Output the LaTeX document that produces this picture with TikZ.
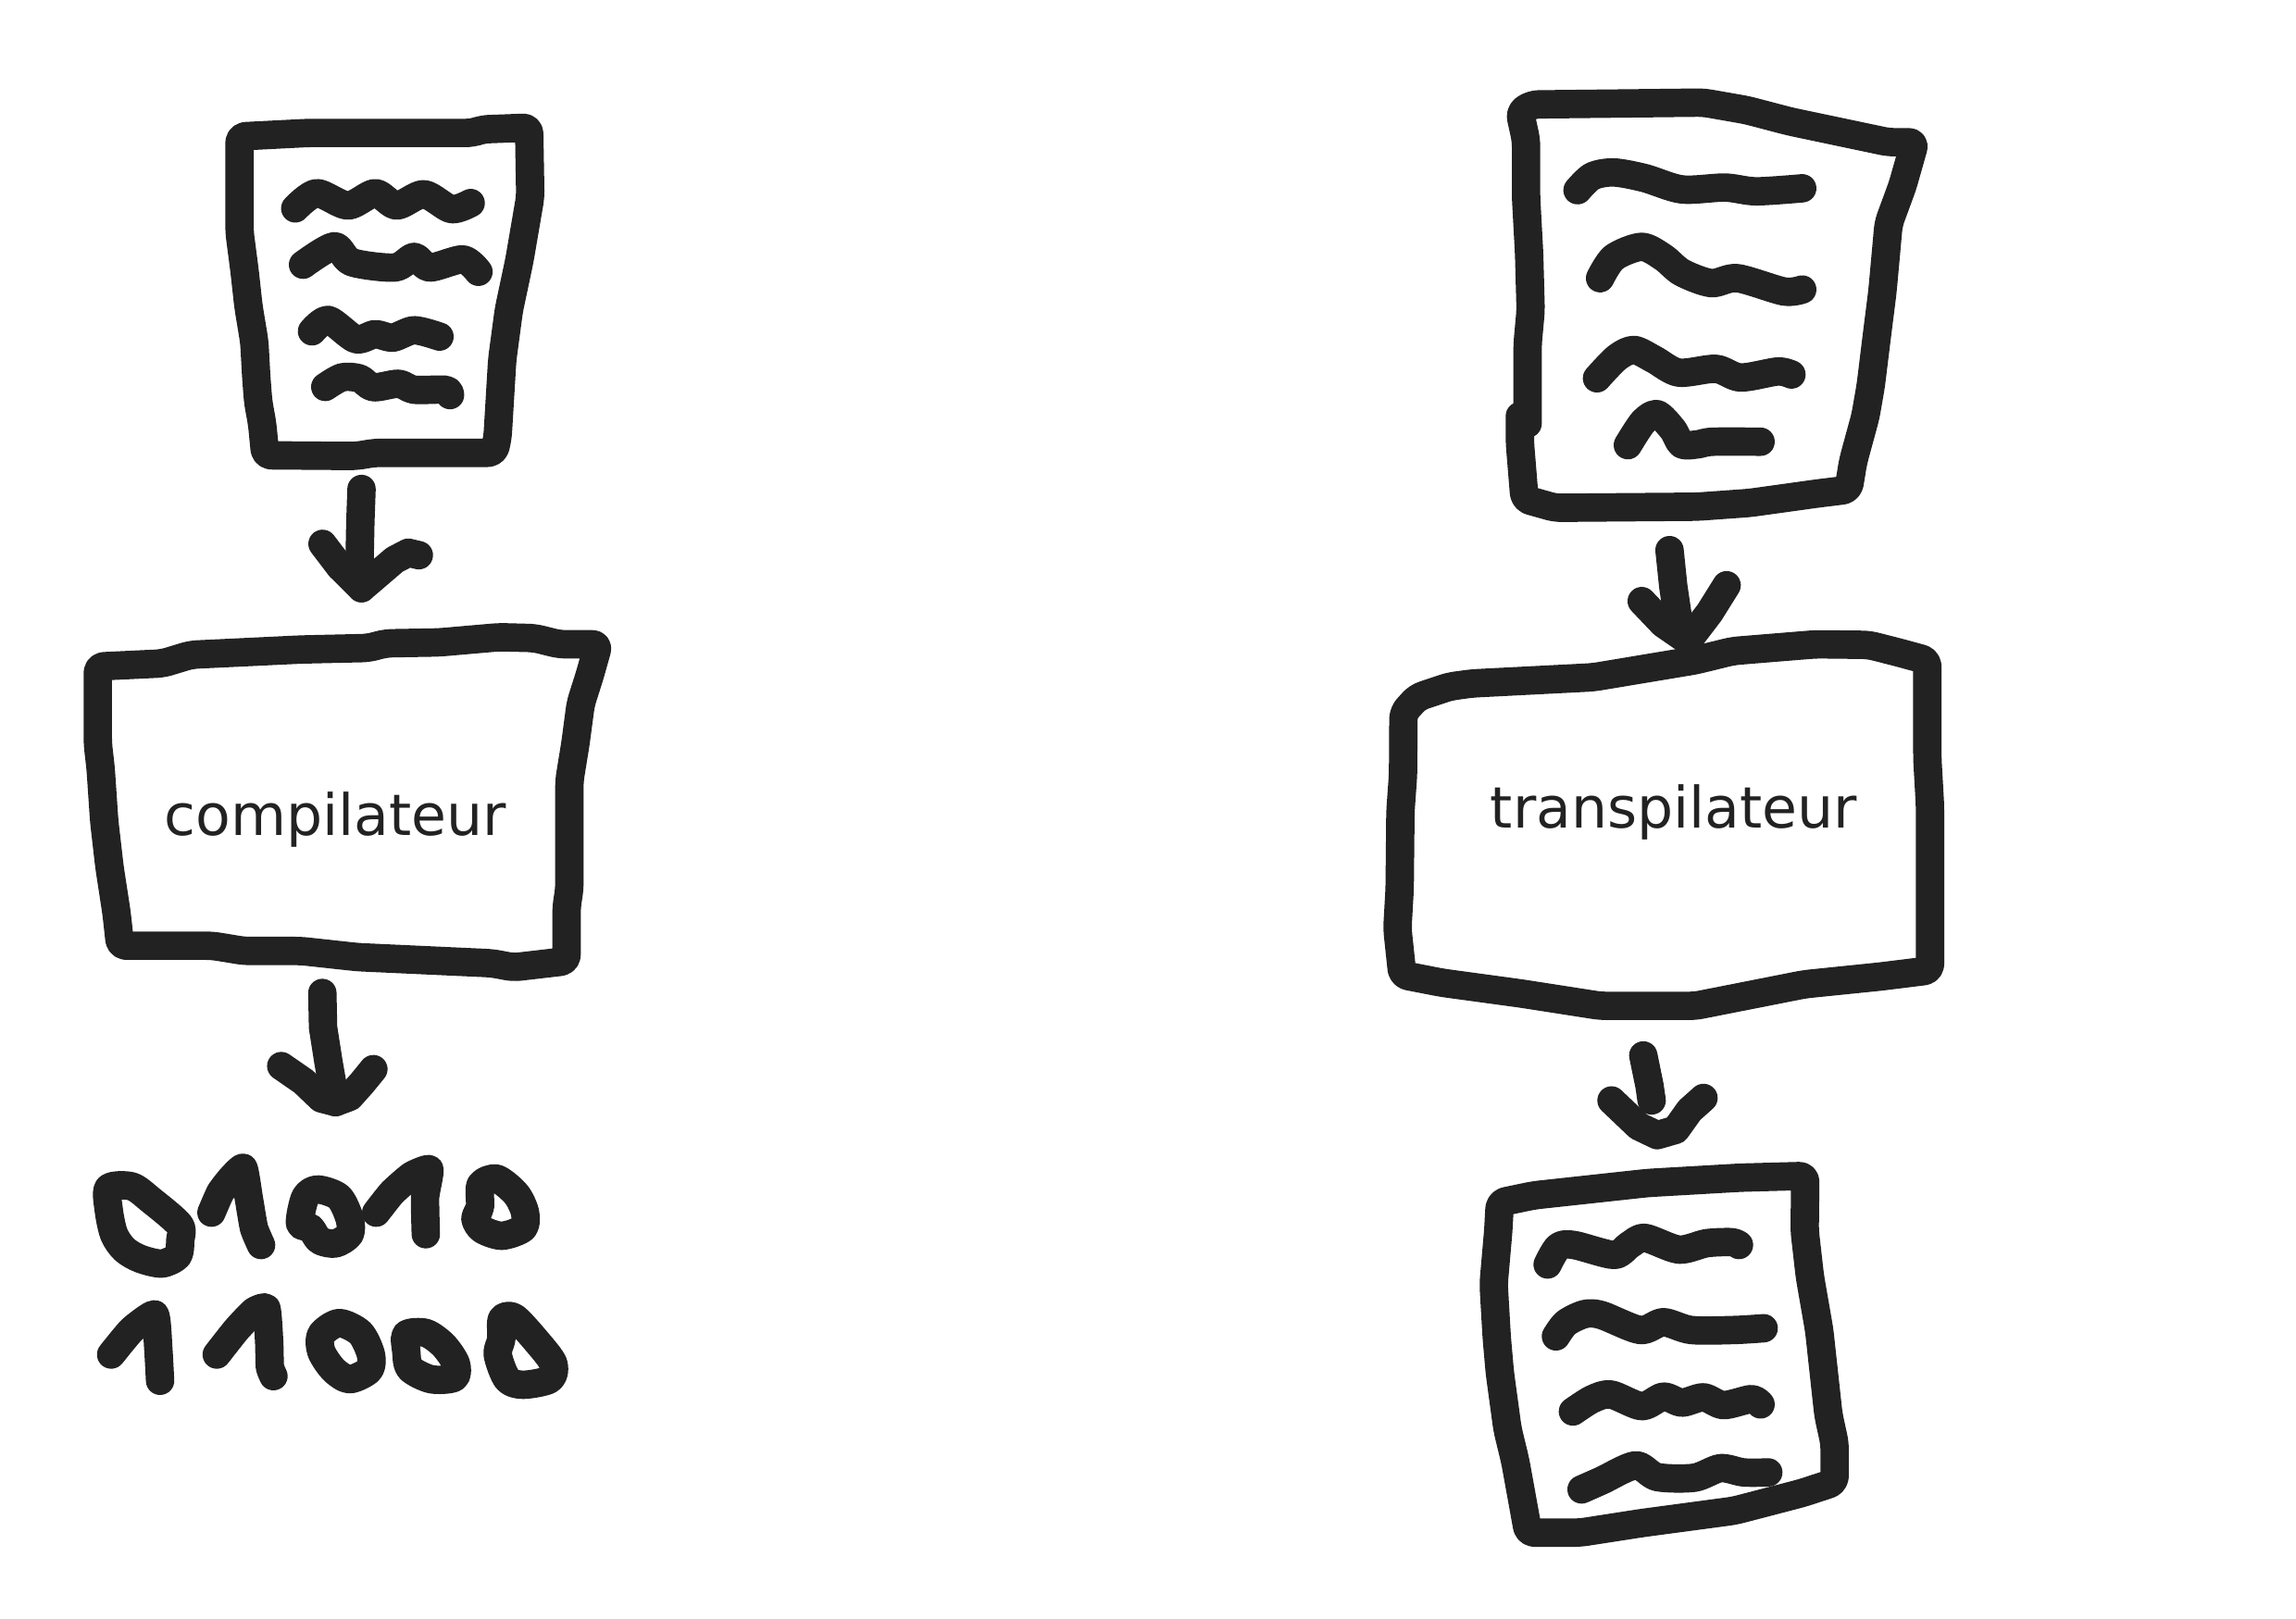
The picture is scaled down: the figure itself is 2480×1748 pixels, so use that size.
\documentclass[tikz,border=0pt]{standalone}
\usepackage{fontspec}
\setmainfont{DejaVu Sans}
\definecolor{inkdark}{HTML}{222222}
\tikzset{
    sketch/.style={draw=inkdark, line width=9.2pt, line cap=round, line join=round},
    outline/.style={sketch, rounded corners=2pt},
    boxlabel/.style={anchor=base, text=inkdark, inner sep=0pt, font=\fontsize{18.5}{22}\selectfont},
}

\begin{document}
\begin{tikzpicture}[x=0.3pt,y=-0.3pt]
    \path[use as bounding box, fill=white] (0,0) rectangle (2480,1748);

    % left column
    \begin{scope}[shift={(60,90)},xscale=0.421,yscale=0.3827]
        \draw[outline] (650,140) -- (1070,140) -- (1095,130) -- (1215,125) -- (1218,320) -- (1190,500) -- (1163,640) -- (1146,780) -- (1134,1000) -- (1125,1043) -- (820,1043) -- (770,1052) -- (538,1050) -- (530,960) -- (520,900) -- (515,830) -- (510,730) -- (495,630) -- (485,530) -- (472,420) -- (472,150) -- cycle;
        \draw[sketch] plot[smooth,tension=.5] coordinates {(615,353) (670,310) (750,345) (820,310) (875,345) (945,313) (1015,355) (1065,338)};
        \draw[sketch] plot[smooth,tension=.5] coordinates {(635,512) (715,460) (760,505) (870,520) (920,490) (960,520) (1045,497) (1085,532)};
        \draw[sketch] plot[smooth,tension=.5] coordinates {(658,700) (700,668) (770,722) (820,708) (865,718) (920,697) (985,715)};
        \draw[sketch] plot[smooth,tension=.5] coordinates {(692,857) (735,830) (780,833) (815,858) (880,848) (920,865) (1000,865) (1012,880)};
        \coordinate (srcdoc) at (785,1145);
        \coordinate (tipcomp) at (785,1425);
        \draw[sketch] (srcdoc) -- (782,1240) -- (780,1350) -- (tipcomp);
        \draw[sketch] (685,1300) -- (730,1365) -- (tipcomp) -- (870,1345) -- (905,1325) -- (932,1332);
    \end{scope}

    \begin{scope}[shift={(80,670)},xscale=0.3827,yscale=0.3333]
        \draw[outline] (250,140) -- (330,112) -- (640,95) -- (830,90) -- (880,75) -- (1030,72) -- (1200,55) -- (1300,58) -- (1370,78) -- (1480,78) -- (1455,180) -- (1430,270) -- (1415,400) -- (1398,520) -- (1398,870) -- (1390,930) -- (1390,1105) -- (1240,1125) -- (1180,1112) -- (800,1092) -- (640,1072) -- (480,1072) -- (390,1055) -- (130,1055) -- (120,950) -- (100,800) -- (85,650) -- (75,480) -- (67,400) -- (67,150) -- cycle;
    \end{scope}
    \node[boxlabel] (compilateur) at (362.5,902) {compilateur};

    \begin{scope}[shift={(60,1040)},xscale=0.3827,yscale=0.3333]
        \coordinate (srccomp) at (753,98);
        \coordinate (tipbin) at (790,452);
        \draw[sketch] (srccomp) -- (755,210) -- (770,320) -- (tipbin);
        \draw[sketch] (637,335) -- (700,385) -- (750,440) -- (tipbin) -- (830,435) -- (865,390) -- (897,345);
        % bits
        \draw[sketch] plot[smooth cycle,tension=.5] coordinates {(150,730) (215,725) (270,770) (350,850) (352,900) (345,950) (300,975) (240,960) (195,930) (165,880) (150,800)};
        \draw[sketch] plot[smooth,tension=.3] coordinates {(440,810) (465,745) (495,700) (530,665) (545,760) (560,860) (580,915)};
        \draw[sketch] plot[smooth cycle,tension=.5] coordinates {(690,845) (705,760) (740,735) (800,760) (830,830) (830,880) (790,910) (745,900) (720,860)};
        \draw[sketch] plot[smooth,tension=.3] coordinates {(905,810) (950,745) (1005,690) (1055,670) (1043,760) (1045,880)};
        \draw[sketch] plot[smooth cycle,tension=.5] coordinates {(1200,720) (1245,700) (1300,750) (1325,810) (1320,860) (1260,885) (1205,865) (1185,830) (1198,790)};
        \draw[sketch] plot[smooth,tension=.3] coordinates {(157,1270) (215,1190) (280,1140) (290,1250) (295,1355)};
        \draw[sketch] plot[smooth,tension=.3] coordinates {(455,1270) (510,1190) (560,1130) (595,1120) (603,1230) (605,1310) (615,1340)};
        \draw[sketch] plot[smooth cycle,tension=.5] coordinates {(750,1205) (800,1168) (860,1200) (890,1270) (885,1320) (830,1350) (785,1320) (750,1260)};
        \draw[sketch] plot[smooth cycle,tension=.5] coordinates {(990,1205) (1045,1200) (1095,1240) (1130,1300) (1125,1345) (1060,1350) (1000,1315) (990,1260)};
        \draw[sketch] plot[smooth cycle,tension=.5] coordinates {(1260,1155) (1295,1150) (1360,1230) (1405,1300) (1395,1350) (1320,1368) (1275,1350) (1248,1270) (1258,1220)};
    \end{scope}

    % right column
    \begin{scope}[shift={(1600,70)},xscale=0.3333,yscale=0.408]
        \draw[outline] (150,950) -- (150,740) -- (160,650) -- (155,500) -- (145,350) -- (145,200) -- (125,125) -- (165,105) -- (720,100) -- (860,120) -- (1000,150) -- (1320,205) -- (1405,205) -- (1365,320) -- (1320,420) -- (1300,600) -- (1280,730) -- (1262,850) -- (1245,930) -- (1205,1050) -- (1190,1125) -- (1090,1135) -- (870,1160) -- (700,1170) -- (240,1173) -- (140,1150) -- (125,1000) -- (125,930);
        \draw[sketch] plot[smooth,tension=.5] coordinates {(312,332) (360,295) (430,285) (530,300) (650,330) (790,325) (890,335) (1040,327)};
        \draw[sketch] plot[smooth,tension=.5] coordinates {(385,565) (430,510) (520,482) (590,510) (650,550) (745,578) (830,565) (980,600) (1040,595)};
        \draw[sketch] plot[smooth,tension=.5] coordinates {(375,830) (440,775) (495,755) (560,780) (640,815) (760,805) (840,828) (960,812) (1005,820)};
        \draw[sketch] plot[smooth,tension=.5] coordinates {(475,1007) (525,945) (570,925) (620,965) (650,1005) (700,1005) (750,998) (905,998)};
        \coordinate (srcsrc) at (610,1285);
        \coordinate (tiptrans) at (670,1525);
        \draw[sketch] (srcsrc) -- (622,1380) -- (640,1480) -- (tiptrans);
        \draw[sketch] (520,1420) -- (590,1480) -- (tiptrans) -- (740,1450) -- (795,1378);
    \end{scope}

    \begin{scope}[shift={(1480,670)},xscale=0.408,yscale=0.3333]
        \draw[outline] (430,195) -- (590,185) -- (860,130) -- (960,100) -- (1180,78) -- (1320,80) -- (1400,105) -- (1475,130) -- (1475,450) -- (1482,600) -- (1482,1135) -- (1350,1155) -- (1150,1180) -- (860,1250) -- (610,1250) -- (400,1210) -- (190,1175) -- (85,1150) -- (72,1000) -- (78,870) -- (80,620) -- (87,500) -- (88,300) -- (125,250) -- (210,215) -- (270,205) -- cycle;
    \end{scope}
    \node[boxlabel] (transpilateur) at (1808,894) {transpilateur};

    \begin{scope}[shift={(1580,1100)},xscale=0.3333,yscale=0.3827]
        \coordinate (srctrans) at (585,105);
        \coordinate (tipdoc) at (612,232);
        \draw[sketch] (srctrans) -- (605,190) -- (tipdoc);
        \draw[sketch] (482,232) -- (570,305) -- (630,330) -- (690,315) -- (735,260) -- (780,225);
        \draw[outline] (600,465) -- (900,450) -- (1110,445) -- (1108,600) -- (1125,730) -- (1155,880) -- (1170,1000) -- (1185,1120) -- (1205,1200) -- (1205,1310) -- (1100,1340) -- (880,1390) -- (580,1425) -- (380,1452) -- (212,1452) -- (170,1250) -- (145,1160) -- (120,1000) -- (110,900) -- (100,750) -- (115,600) -- (120,520) -- (230,500) -- cycle;
        \draw[sketch] plot[smooth,tension=.5] coordinates {(275,695) (310,645) (360,640) (490,668) (540,640) (590,620) (700,653) (790,635) (870,632) (895,640)};
        \draw[sketch] plot[smooth,tension=.5] coordinates {(302,898) (335,860) (395,835) (450,838) (575,880) (650,858) (740,880) (880,880) (975,875)};
        \draw[sketch] plot[smooth,tension=.5] coordinates {(357,1110) (420,1075) (480,1062) (580,1095) (650,1068) (710,1085) (780,1070) (845,1092) (935,1075) (965,1090)};
        \draw[sketch] plot[smooth,tension=.5] coordinates {(385,1330) (450,1305) (560,1262) (630,1295) (750,1297) (835,1270) (910,1282) (990,1282)};
    \end{scope}
\end{tikzpicture}
\end{document}
